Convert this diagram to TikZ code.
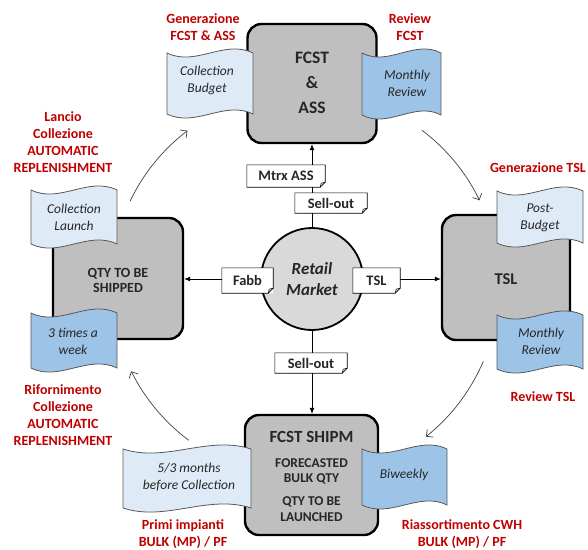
\documentclass[tikz,border=0pt]{standalone}
\usepackage{fontspec}
\setmainfont{Carlito}
\usetikzlibrary{arrows.meta,calc}
\definecolor{lblue}{HTML}{DEEBF7}
\definecolor{dblue}{HTML}{9DC3E6}
\definecolor{boxgray}{HTML}{BFBFBF}
\definecolor{circgray}{HTML}{D9D9D9}
\definecolor{redlbl}{HTML}{C00000}
\definecolor{txt}{HTML}{262626}
\newcommand\wavebanner[9]{%
  \draw[bannerline,fill=#6] (#2,#4) .. controls ({#2+(#3-#2)/3},{#4+14}) and ({#2+2*(#3-#2)/3},{#4-14}) .. (#3,#4) -- (#3,#5) .. controls ({#2+2*(#3-#2)/3},{#5-14}) and ({#2+(#3-#2)/3},{#5+14}) .. (#2,#5) -- cycle;
  \node[bannertext] (#1) at (#7,#8) {#9};}
\newcommand\notebox[6]{%
  \node[notetext, minimum width=#4pt, minimum height=#5pt] (#1) at (#2,#3) {#6};
  \draw[noteline] (#1.north west) -- (#1.north east) -- ($(#1.south east)+(0,-5)$) -- ($(#1.south east)+(-5,0)$) -- (#1.south west) -- cycle;
  \draw[noteline] ($(#1.south east)+(0,-5)$) -- ($(#1.south east)+(-4,-4)$) -- ($(#1.south east)+(-5,0)$);}
\begin{document}
\begin{tikzpicture}[x=1pt,y=-1pt,
  bigbox/.style={draw=black, line width=2.4pt, fill=boxgray, rounded corners=14pt, inner sep=0pt},
  boxtext/.style={align=center, text=txt, inner sep=0pt},
  bannerline/.style={draw=black!65, line width=0.8pt},
  bannertext/.style={align=center, text=txt, inner sep=0pt, font=\fontsize{13.5}{17}\selectfont\itshape},
  notetext/.style={fill=white, inner sep=0pt, text=txt, font=\fontsize{14.5}{17}\selectfont\bfseries},
  noteline/.style={draw=black, line width=0.6pt},
  redlbl/.style={align=center, text=redlbl, inner sep=0pt, font=\fontsize{14}{17}\selectfont\bfseries},
  conn/.style={draw=black, line width=0.8pt, -{Latex[length=6pt,width=5pt]}},
  flow/.style={draw=black!75, line width=0.7pt, -{Straight Barb[length=5pt,width=10pt]}}]
\useasboundingbox (0,0) rectangle (588,549);
% main boxes
\node[bigbox, minimum width=129pt, minimum height=119pt] (fcst) at (312,83.5) {};
\node[bigbox, minimum width=130pt, minimum height=121pt] (qty) at (118,278.5) {};
\node[bigbox, minimum width=128pt, minimum height=125pt] (tsl) at (506,277.5) {};
\node[bigbox, minimum width=133pt, minimum height=120pt] (ship) at (311.5,475) {};
\node[boxtext, font=\fontsize{17.5}{25}\selectfont\bfseries] (fcsttxt) at (312,82.5) {FCST\\\&\\ASS};
\node[boxtext, font=\fontsize{14}{15}\selectfont\bfseries] (qtytxt) at (118,280) {QTY TO BE\\SHIPPED};
\node[boxtext, font=\fontsize{16.5}{20}\selectfont\bfseries] (tsltxt) at (506,279) {TSL};
\node[boxtext, font=\fontsize{17}{20}\selectfont\bfseries] (shiptitle) at (311.5,437) {FCST SHIPM};
\node[boxtext, font=\fontsize{13.5}{15.5}\selectfont\bfseries] (shipa) at (311.5,471.5) {FORECASTED\\BULK QTY};
\node[boxtext, font=\fontsize{13.5}{15.5}\selectfont\bfseries] (shipb) at (311.5,509) {QTY TO BE\\LAUNCHED};
% banners
\wavebanner{bud}{167}{253}{53}{114}{lblue}{207}{80.5}{Collection\\Budget}
\wavebanner{mrev}{362}{441}{53}{115}{dblue}{407}{83.5}{Monthly\\Review}
\wavebanner{claunch}{31}{117}{190}{244}{lblue}{74}{217}{Collection\\Launch}
\wavebanner{three}{31}{117}{313}{368}{dblue}{73}{341.5}{3 times a\\week}
\wavebanner{postb}{497}{583}{191}{243}{lblue}{540}{218}{Post-\\Budget}
\wavebanner{mrev2}{497}{583}{315}{369}{dblue}{541}{341.5}{Monthly\\Review}
\wavebanner{months}{123}{251}{449}{508}{lblue}{189}{477.5}{5/3 months\\before Collection}
\wavebanner{biw}{362}{447}{449}{505}{dblue}{404}{475}{Biweekly}
% red labels
\node[redlbl] (lgen) at (203,27) {Generazione\\FCST \& ASS};
\node[redlbl] (lrev) at (410,27) {Review\\FCST};
\node[redlbl] (llan) at (63,142.5) {Lancio\\Collezione\\AUTOMATIC\\REPLENISHMENT};
\node[redlbl] (lrif) at (63,415.5) {Rifornimento\\Collezione\\AUTOMATIC\\REPLENISHMENT};
\node[redlbl, anchor=east] (lgtsl) at (586,168) {Generazione TSL};
\node[redlbl] (lrtsl) at (543,397) {Review TSL};
\node[redlbl] (lprimi) at (183,534) {Primi impianti\\BULK (MP) / PF};
\node[redlbl] (lriass) at (462,534) {Riassortimento CWH\\BULK (MP) / PF};
% centre
\node[circle, draw=black, line width=1.8pt, fill=circgray, minimum size=102pt, inner sep=0pt, align=center, text=txt, font=\fontsize{17}{21}\selectfont\bfseries\itshape] (rm) at (312,279) {Retail\\Market};
\draw[conn] (rm.north) -- (rm.north |- fcst.south);
\draw[conn] (rm.west) -- (rm.west -| qty.east);
\draw[conn] (rm.east) -- (rm.east -| tsl.west);
\draw[conn] (rm.south) -- (rm.south |- ship.north);
\notebox{nmtrx}{286}{176}{78}{22}{Mtrx ASS}
\notebox{nsell1}{331}{203}{72}{20}{Sell-out}
\notebox{nfabb}{247.5}{280.5}{51}{25}{Fabb}
\notebox{ntsl}{376.5}{280.5}{47}{25}{TSL}
\notebox{nsell2}{311}{363}{72}{20}{Sell-out}
% flow arcs
\coordinate (ctr) at (305,285);
\coordinate (f1) at ($(ctr)+(205.6:194)$);
\coordinate (f2) at ($(ctr)+(307.1:194)$);
\coordinate (f3) at ($(ctr)+(23.2:194)$);
\coordinate (f4) at ($(ctr)+(126.8:194)$);
\draw[flow] (f1) arc[start angle=205.6, end angle=232.7, radius=194];
\draw[flow] (f2) arc[start angle=307.1, end angle=334.1, radius=194];
\draw[flow] (f3) arc[start angle=23.2, end angle=51.4, radius=194];
\draw[flow] (f4) arc[start angle=126.8, end angle=153.6, radius=194];
\end{tikzpicture}
\end{document}
